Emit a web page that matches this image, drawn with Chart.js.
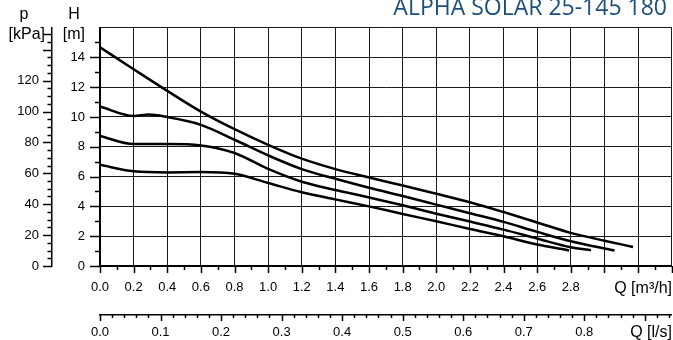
<!DOCTYPE html>
<html>
<head>
<meta charset="utf-8">
<script src="https://cdn.jsdelivr.net/npm/chart.js@4/dist/chart.umd.min.js"></script>
<style>
    html, body { margin: 0; padding: 0; background: #fff; }
    #wrap { width: 673px; height: 340px; }
</style>
</head>
<body>
<div id="wrap"><canvas id="pump-chart" width="673" height="340"></canvas></div>
<script>
const chartTitle = 'ALPHA SOLAR 25-145 180';

// pump curves, flow in m3/h and head in m
const flowMax = [0, 0.2, 0.4, 0.6, 0.8, 1.0, 1.2, 1.4, 1.6, 1.8, 2.0, 2.2, 2.4, 2.6, 2.8, 3.0, 3.17];
const headMax = [14.67, 13.2, 11.75, 10.36, 9.18, 8.13, 7.2, 6.5, 5.94, 5.4, 4.85, 4.28, 3.62, 2.92, 2.22, 1.7, 1.28];

const flowHigh = [0, 0.2, 0.29, 0.4, 0.6, 0.8, 1.0, 1.2, 1.4, 1.6, 1.8, 2.0, 2.2, 2.4, 2.6, 2.8, 3.06];
const headHigh = [10.7, 10.07, 10.16, 9.99, 9.47, 8.47, 7.42, 6.5, 5.85, 5.25, 4.7, 4.12, 3.54, 2.96, 2.29, 1.66, 1.04];

const flowMid = [0, 0.2, 0.4, 0.6, 0.8, 1.0, 1.2, 1.4, 1.6, 1.8, 2.0, 2.2, 2.4, 2.6, 2.8, 2.92];
const headMid = [8.73, 8.18, 8.18, 8.09, 7.58, 6.51, 5.65, 5.1, 4.6, 4.07, 3.51, 2.98, 2.44, 1.84, 1.26, 1.06];

const flowLow = [0, 0.2, 0.4, 0.6, 0.8, 1.0, 1.2, 1.4, 1.6, 1.8, 2.0, 2.2, 2.4, 2.6, 2.79];
const headLow = [6.79, 6.35, 6.28, 6.3, 6.19, 5.57, 4.95, 4.47, 4.0, 3.49, 3.0, 2.48, 1.99, 1.44, 1.04];

// axis ticks
const qTicks = [0, 0.2, 0.4, 0.6, 0.8, 1.0, 1.2, 1.4, 1.6, 1.8, 2.0, 2.2, 2.4, 2.6, 2.8, 3.0, 3.2, 3.4];
const qLabelMax = 2.8;
const lsTicks = [0, 0.1, 0.2, 0.3, 0.4, 0.5, 0.6, 0.7, 0.8, 0.9];
const lsLabelMax = 0.8;
const hTicks = [0, 2, 4, 6, 8, 10, 12, 14, 16];
const hLabelMax = 14;
const pTicks = [0, 20, 40, 60, 80, 100, 120];

const qMax = 3.4;
const hMax = 16;
const kpaPerMeter = 9.65;
const font = '"Liberation Sans", Arial, sans-serif';

function toPoints(flow, head) {
    return flow.map((q, i) => ({ x: q, y: head[i] }));
}

function curve(flow, head) {
    return {
        data: toPoints(flow, head),
        borderColor: '#000',
        borderWidth: 2.5,
        pointRadius: 0,
        fill: false,
        cubicInterpolationMode: 'monotone',
        xAxisID: 'x',
        yAxisID: 'y'
    };
}

// bottom axes: fixed height and no extra side padding from the label padding
function fitBottom(h) {
    return s => {
        s.height = h;
        s.paddingLeft = 0;
        s.paddingRight = 0;
    };
}

// small tick marks and the free texts round the plot
const decorations = {
    id: 'decorations',
    afterDraw(chart) {
        const ctx = chart.ctx;
        const { x, x2, y, p } = chart.scales;

        function tick(x1, y1, xx, yy) {
            ctx.beginPath();
            ctx.moveTo(x1, y1);
            ctx.lineTo(xx, yy);
            ctx.stroke();
        }

        ctx.save();
        ctx.strokeStyle = '#000';
        ctx.lineWidth = 1.5;

        // Q [m3/h], every 0.1
        for (let i = 0; i <= 34; i++) {
            let px = Math.round(x.getPixelForValue(i / 10)) + 0.5;
            tick(px, x.top, px, x.top + (i % 2 ? 4 : 7));
        }
        // Q [l/s], every 0.02
        for (let i = 0; i * 0.02 <= x2.max + 1e-9; i++) {
            let px = Math.round(x2.getPixelForValue(i * 0.02)) + 0.5;
            tick(px, x2.top, px, x2.top + (i % 5 ? 3 : 6));
        }
        // H [m], every 1
        for (let i = 0; i <= 15; i++) {
            let py = Math.round(y.getPixelForValue(i)) + 0.5;
            tick(y.right, py, y.right - (i % 2 ? 5 : 10), py);
        }
        // p [kPa], every 5
        for (let i = 0; i <= 150; i += 5) {
            let py = Math.round(p.getPixelForValue(i)) + 0.5;
            let major = i % 20 === 0 || i === 150;
            tick(p.right, py, p.right - (major ? 9 : 4.5), py);
        }

        ctx.fillStyle = '#000';
        ctx.textBaseline = 'middle';
        ctx.font = '16px ' + font;
        ctx.textAlign = 'center';
        ctx.fillText('p', 24, 15);
        ctx.fillText('H', 74, 15);
        ctx.textAlign = 'right';
        ctx.fillText('[kPa]', 45, 35);
        ctx.fillText('[m]', 85, 35);
        ctx.fillText('Q [m³/h]', 672, 289);
        ctx.fillText('Q [l/s]', 672, 333);

        ctx.fillStyle = '#1d4f7c';
        ctx.font = '23px "Open Sans", "Noto Sans", sans-serif';
        ctx.textBaseline = 'alphabetic';
        ctx.fillText(chartTitle, 667, 15);
        ctx.restore();
    }
};

const tickFont = { family: font, size: 13 };

new Chart(document.getElementById('pump-chart'), {
    type: 'line',
    data: {
        datasets: [
            curve(flowMax, headMax),
            curve(flowHigh, headHigh),
            curve(flowMid, headMid),
            curve(flowLow, headLow)
        ]
    },
    options: {
        responsive: false,
        animation: false,
        layout: {
            autoPadding: false,
            padding: { top: 27.5, right: 1.3, left: 0, bottom: 0 }
        },
        plugins: {
            legend: { display: false },
            tooltip: { enabled: false }
        },
        scales: {
            x: {
                type: 'linear',
                position: 'bottom',
                weight: 0,
                min: 0,
                max: qMax,
                afterFit: fitBottom(49),
                afterBuildTicks: s => { s.ticks = qTicks.map(v => ({ value: v })); },
                ticks: {
                    autoSkip: false,
                    maxRotation: 0,
                    padding: 14,
                    color: '#000',
                    font: tickFont,
                    callback: v => (v <= qLabelMax + 1e-9 ? v.toFixed(1) : '')
                },
                grid: { color: '#1a1a1a', lineWidth: 1, drawTicks: false },
                border: { color: '#000', width: 2 }
            },
            x2: {
                type: 'linear',
                position: 'bottom',
                weight: 1,
                min: 0,
                max: qMax / 3.6,
                afterFit: fitBottom(25),
                afterBuildTicks: s => { s.ticks = lsTicks.map(v => ({ value: v })); },
                ticks: {
                    autoSkip: false,
                    maxRotation: 0,
                    padding: 10,
                    color: '#000',
                    font: tickFont,
                    callback: v => (v <= lsLabelMax + 1e-9 ? v.toFixed(1) : '')
                },
                grid: { display: false, drawTicks: false },
                border: { color: '#000', width: 1.5 }
            },
            y: {
                type: 'linear',
                position: 'left',
                weight: 0,
                min: 0,
                max: hMax,
                afterFit: s => { s.width = 48; },
                afterBuildTicks: s => { s.ticks = hTicks.map(v => ({ value: v })); },
                ticks: {
                    padding: 15,
                    color: '#000',
                    font: tickFont,
                    callback: v => (v <= hLabelMax ? v : '')
                },
                grid: { color: '#1a1a1a', lineWidth: 1, drawTicks: false },
                border: { color: '#000', width: 2 }
            },
            p: {
                type: 'linear',
                position: 'left',
                weight: 1,
                min: 0,
                max: hMax * kpaPerMeter,
                afterFit: s => { s.width = 52; },
                afterBuildTicks: s => { s.ticks = pTicks.map(v => ({ value: v })); },
                ticks: {
                    padding: 13,
                    color: '#000',
                    font: tickFont,
                    callback: v => v
                },
                grid: { display: false, drawTicks: false },
                border: { color: '#000', width: 1.5 }
            }
        }
    },
    plugins: [decorations]
});
</script>
</body>
</html>
